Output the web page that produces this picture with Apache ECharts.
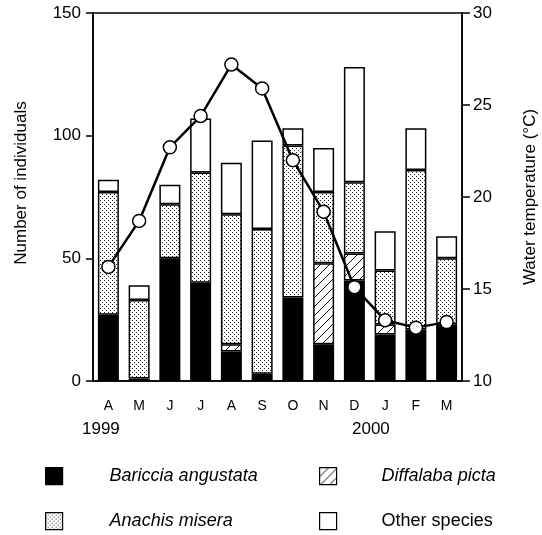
<!DOCTYPE html>
<html>
<head>
<meta charset="utf-8">
<script src="https://cdn.jsdelivr.net/npm/echarts@6/dist/echarts.min.js"></script>
<style>
  html, body { margin: 0; padding: 0; background: #fff; }
  #chart { width: 542px; height: 535px; }
</style>
</head>
<body>
<div id="chart"></div>
<script>
// Monthly samples, April 1999 to March 2000
var months = ['A', 'M', 'J', 'J', 'A', 'S', 'O', 'N', 'D', 'J', 'F', 'M'];
var years = ['1999', '2000'];

// Number of individuals per species (stacked)
var bariccia  = [27, 1, 50, 40, 12, 3, 34, 15, 41, 19, 21, 23];
var diffalaba = [null, null, null, null, 3, null, null, 33, 11, 4, null, null];
var anachis   = [50, 32, 22, 45, 53, 59, 62, 29, 29, 22, 65, 27];
var others    = [5, 6, 8, 22, 21, 36, 7, 18, 47, 16, 17, 9];

// Water temperature (°C)
var temperature = [16.2, 18.7, 22.7, 24.4, 27.2, 25.9, 22.0, 19.2, 15.1, 13.3, 12.9, 13.2];

var FONT = '"Liberation Sans", Arial, sans-serif';

// Stipple pattern for Anachis misera
function dotPattern() {
  var c = document.createElement('canvas');
  c.width = 4; c.height = 4;
  var g = c.getContext('2d');
  g.fillStyle = '#fff'; g.fillRect(0, 0, 4, 4);
  g.fillStyle = '#222';
  g.fillRect(0, 0, 1, 1);
  g.fillRect(2, 2, 1, 1);
  return { image: c, repeat: 'repeat' };
}

// Diagonal hatching for Diffalaba picta
function hatchPattern() {
  var s = 9;
  var c = document.createElement('canvas');
  c.width = s; c.height = s;
  var g = c.getContext('2d');
  g.fillStyle = '#fff'; g.fillRect(0, 0, s, s);
  g.strokeStyle = '#111'; g.lineWidth = 1;
  g.beginPath();
  g.moveTo(-1, s + 1); g.lineTo(s + 1, -1);
  g.moveTo(-1, 1); g.lineTo(1, -1);
  g.moveTo(s - 1, s + 1); g.lineTo(s + 1, s - 1);
  g.stroke();
  return { image: c, repeat: 'repeat' };
}

var barBorder = { borderColor: '#000', borderWidth: 1.5 };

function barSeries(name, data, color) {
  return {
    name: name,
    type: 'bar',
    stack: 'count',
    barWidth: 21,
    data: data,
    itemStyle: Object.assign({ color: color }, barBorder)
  };
}

// One legend block per species, laid out as a 2 x 2 key
function legendItem(name, x, y, gap, italic) {
  return {
    data: [name],
    left: x, top: y,
    icon: 'rect',
    itemWidth: 17, itemHeight: 17,
    selectedMode: false,
    itemStyle: { borderColor: '#000', borderWidth: 1.2 },
    textStyle: {
      fontFamily: FONT, fontSize: 18, color: '#000',
      fontStyle: italic ? 'italic' : 'normal',
      padding: [0, 0, 0, gap]
    }
  };
}

var chart = echarts.init(document.getElementById('chart'));

chart.setOption({
  animation: false,
  backgroundColor: '#fff',
  grid: {
    left: 93, right: 80, top: 13, bottom: 154,
    outerBoundsMode: 'none',
    containLabel: false,
    show: true, borderColor: '#000', borderWidth: 1.5, backgroundColor: 'transparent'
  },
  legend: [
    legendItem('Bariccia angustata', 40, 462, 42, true),
    legendItem('Anachis misera', 40, 507, 42, true),
    legendItem('Diffalaba picta', 314, 462, 40, true),
    legendItem('Other species', 314, 507, 40, false)
  ],
  xAxis: {
    type: 'category',
    data: months,
    axisLine: { lineStyle: { color: '#000', width: 1.5 } },
    axisTick: { alignWithLabel: true, length: 8, lineStyle: { color: '#000', width: 1.5 } },
    axisLabel: { color: '#000', fontFamily: FONT, fontSize: 14, margin: 18 }
  },
  yAxis: [
    {
      type: 'value', min: 0, max: 150, interval: 50,
      name: 'Number of individuals', nameLocation: 'middle', nameRotate: 90, nameGap: 63,
      nameTextStyle: { color: '#000', fontFamily: FONT, fontSize: 17, padding: [0, 0, 0, 28] },
      axisLine: { show: true, lineStyle: { color: '#000', width: 1.5 } },
      axisTick: { show: true, length: 7, lineStyle: { color: '#000', width: 1.5 } },
      axisLabel: { color: '#000', fontFamily: FONT, fontSize: 17, margin: 12 },
      splitLine: { show: false }
    },
    {
      type: 'value', min: 10, max: 30, interval: 5, position: 'right',
      name: 'Water temperature (°C)', nameLocation: 'middle', nameRotate: 90, nameGap: 60,
      nameTextStyle: { color: '#000', fontFamily: FONT, fontSize: 17 },
      axisLine: { show: true, lineStyle: { color: '#000', width: 1.5 } },
      axisTick: { show: true, length: 8, lineStyle: { color: '#000', width: 1.5 } },
      axisLabel: { color: '#000', fontFamily: FONT, fontSize: 17, margin: 11 },
      splitLine: { show: false }
    }
  ],
  graphic: [
    { type: 'text', left: 82, top: 421, style: { text: years[0], font: '17px ' + FONT, fill: '#000' } },
    { type: 'text', left: 352, top: 421, style: { text: years[1], font: '17px ' + FONT, fill: '#000' } }
  ],
  series: [
    barSeries('Bariccia angustata', bariccia, '#000'),
    barSeries('Diffalaba picta', diffalaba, hatchPattern()),
    barSeries('Anachis misera', anachis, dotPattern()),
    barSeries('Other species', others, '#fff'),
    {
      name: 'Water temperature',
      type: 'line',
      yAxisIndex: 1,
      data: temperature,
      z: 5,
      symbol: 'circle',
      symbolSize: 13,
      lineStyle: { color: '#000', width: 2.5 },
      itemStyle: { color: '#fff', borderColor: '#000', borderWidth: 1.5 }
    }
  ]
});
</script>
</body>
</html>
